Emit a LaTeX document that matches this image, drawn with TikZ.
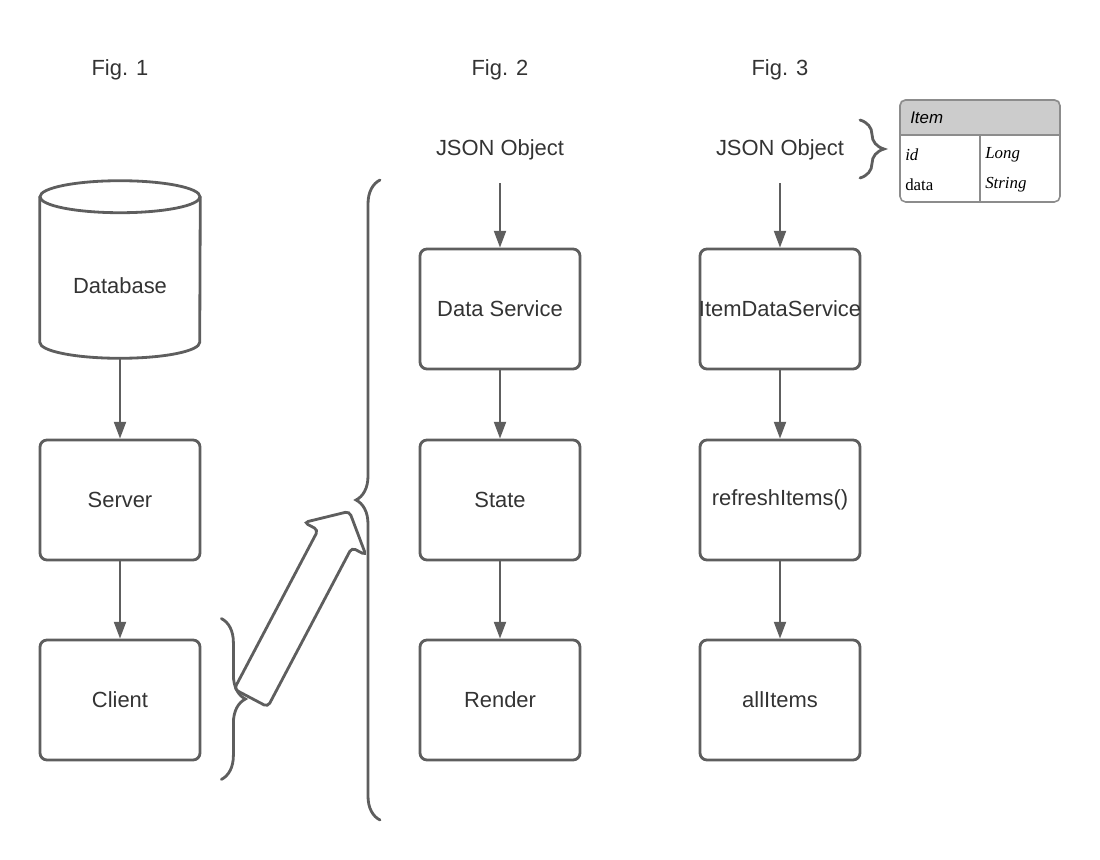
\documentclass[tikz,border=0pt]{standalone}
\usepackage{fontspec}
\setmainfont{Liberation Sans}
\newfontfamily\tblserif{Liberation Serif}
\usetikzlibrary{calc,positioning,arrows.meta,decorations.pathreplacing}
\pgfdeclarelayer{back}
\pgfsetlayers{back,main}
\definecolor{linegray}{HTML}{5E5E5E}
\definecolor{textgray}{HTML}{333333}
\definecolor{headgray}{HTML}{CCCCCC}
\definecolor{tablegray}{HTML}{8C8C8C}
\tikzset{
  block/.style={draw=linegray, line width=2pt, rectangle, rounded corners=5pt,
    minimum width=4cm, minimum height=3cm, text=textgray,
    font=\fontsize{15.6}{18}\selectfont},
  figtext/.style={text=textgray, font=\fontsize{15.6}{18}\selectfont},
  dbline/.style={draw=linegray, line width=2pt},
  flow/.style={draw=linegray, line width=1.5pt, -{Triangle[length=0.42cm,width=0.3cm]}},
  bracket/.style={draw=linegray, line width=2pt, line cap=round, decorate,
    decoration={brace, amplitude=0.6cm}},
  tablebox/.style={draw=tablegray, line width=1.1pt, rectangle, rounded corners=4pt,
    minimum width=4cm, minimum height=2.55cm},
  cell/.style={anchor=west, inner sep=0pt, text=black, font=\tblserif\fontsize{12}{14}\selectfont}
}

\begin{document}
\begin{tikzpicture}

  \useasboundingbox (0,0) rectangle (27.5,-21.5);

  \node [figtext] at(3,-1.75) (fig1) {Fig. 1};
  \node [figtext] at(12.5,-1.75) (fig2) {Fig. 2};
  \node [figtext] at(19.5,-1.75) (fig3) {Fig. 3};

  % Fig. 1
  \node [figtext, minimum width=4cm, minimum height=3.625cm] at(3,-7.1375) (db) {Database};
  \draw [dbline] ($(db.north)+(0,0.4)$) ellipse (2cm and 0.4cm);
  \draw [dbline] ($(db.north west)+(0,0.4)$) -- ($(db.south west)+(0,0.4)$) arc (180:360:2cm and 0.4cm) -- ($(db.north east)+(0,0.4)$);

  \node [block] at(3,-12.5) (server) {Server};
  \node [block] at(3,-17.5) (client) {Client};

  \draw [flow] (db.south) -- (server);
  \draw [flow] (server) -- (client);

  \draw [bracket] ($(client.north east)+(0.5,0.5)$) -- ($(client.south east)+(0.5,-0.45)$);

  \begin{scope}[shift={(6.275,-17.45)}, rotate=62.2]
    \draw [draw=linegray, line width=2pt, fill=white, rounded corners=3pt] (0,-0.475) -- (4.5,-0.475) -- (4.5,-0.875) -- (5.275,0) -- (4.5,0.875) -- (4.5,0.475) -- (0,0.475) -- cycle;
  \end{scope}

  % Fig. 2
  \draw [bracket] (9.5,-20.5) -- (9.5,-4.5);

  \node [figtext] at(12.5,-3.75) (json2) {JSON Object};
  \node [block] at(12.5,-7.725) (ds) {Data Service};
  \node [block] at(12.5,-12.5) (state) {State};
  \node [block] at(12.5,-17.5) (render) {Render};

  \draw [flow, shorten <=0.45cm] (json2) -- (ds);
  \draw [flow] (ds) -- (state);
  \draw [flow] (state) -- (render);

  % Fig. 3
  \node [figtext] at(19.5,-3.75) (json3) {JSON Object};
  \node [block, inner xsep=0pt] at(19.5,-7.725) (ids) {\makebox[4cm]{ItemDataService}};
  \node [block] at(19.5,-12.5) (refresh) {refreshItems()};
  \node [block] at(19.5,-17.5) (all) {allItems};

  \draw [flow, shorten <=0.45cm] (json3) -- (ids);
  \draw [flow] (ids) -- (refresh);
  \draw [flow] (refresh) -- (all);

  \draw [bracket] (21.5,-3) -- (21.5,-4.45);

  \node [tablebox] at(24.5,-3.775) (item) {};
  \begin{pgfonlayer}{back}
    \begin{scope}
      \clip [rounded corners=4pt] (item.north west) rectangle (item.south east);
      \fill [headgray] (item.north west) rectangle ($(item.north east)+(0,-0.9)$);
    \end{scope}
  \end{pgfonlayer}
  \draw [draw=tablegray, line width=1.1pt] ($(item.north west)+(0,-0.9)$) -- ($(item.north east)+(0,-0.9)$);
  \draw [draw=tablegray, line width=1.1pt] ($(item.north)+(0,-0.9)$) -- (item.south);

  \node [anchor=west, inner sep=0pt, text=black, font=\itshape\fontsize{12}{14}\selectfont] at(22.75,-2.95) (itemhead) {Item};
  \node [cell, font=\tblserif\itshape\fontsize{12}{14}\selectfont] at(22.625,-3.88) (idkey) {id};
  \node [cell] at(22.625,-4.63) (datakey) {data};
  \node [cell, font=\tblserif\itshape\fontsize{12}{14}\selectfont] at(24.625,-3.88) (idtype) {Long};
  \node [cell, font=\tblserif\itshape\fontsize{12}{14}\selectfont] at(24.625,-4.63) (datatype) {String};

\end{tikzpicture}
\end{document}
